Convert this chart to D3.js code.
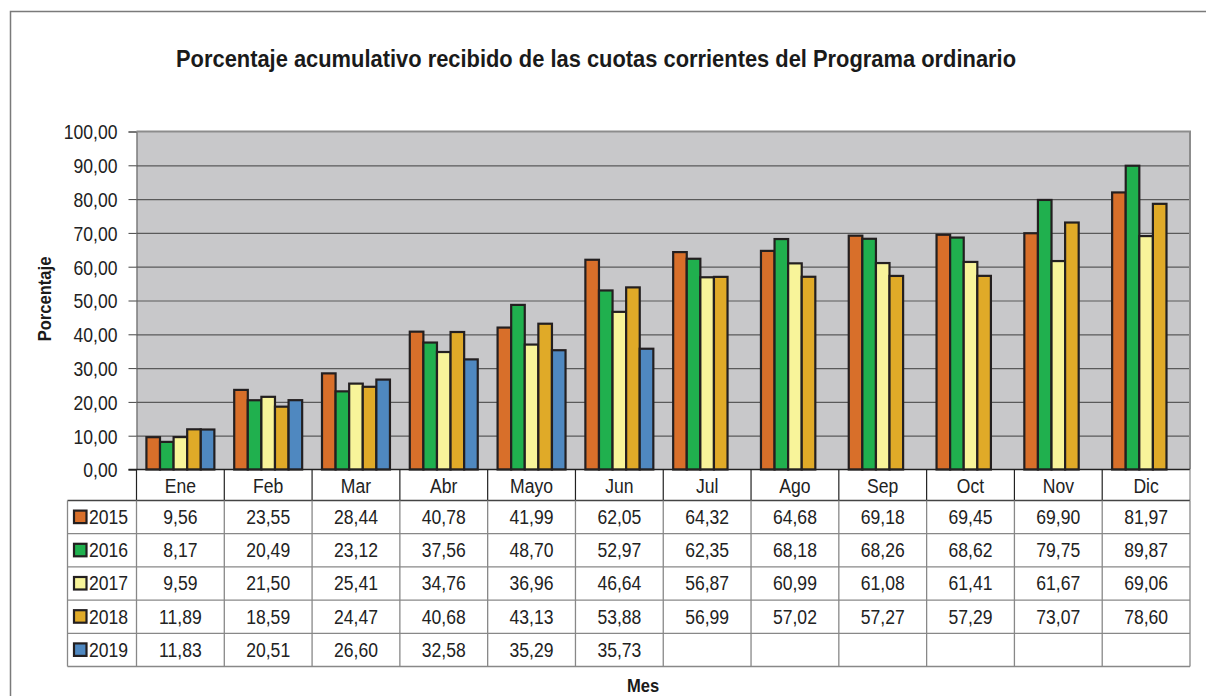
<!DOCTYPE html>
<meta charset="utf-8">

<head>
  <title>Porcentaje acumulativo</title>
</head>

<style>
  body { margin: 0; background: #fff; }
  svg { font-family: "Liberation Sans", Arial, sans-serif; }
</style>

<body>
  <svg width="1206" height="696">
    <g></g>
  </svg>

  <script src="https://cdn.jsdelivr.net/npm/d3@7"></script>
  <script>
    var months = ['Ene', 'Feb', 'Mar', 'Abr', 'Mayo', 'Jun', 'Jul', 'Ago', 'Sep', 'Oct', 'Nov', 'Dic'];
    var years = ['2015', '2016', '2017', '2018', '2019'];

    var v2015 = [9.56, 23.55, 28.44, 40.78, 41.99, 62.05, 64.32, 64.68, 69.18, 69.45, 69.90, 81.97];
    var v2016 = [8.17, 20.49, 23.12, 37.56, 48.70, 52.97, 62.35, 68.18, 68.26, 68.62, 79.75, 89.87];
    var v2017 = [9.59, 21.50, 25.41, 34.76, 36.96, 46.64, 56.87, 60.99, 61.08, 61.41, 61.67, 69.06];
    var v2018 = [11.89, 18.59, 24.47, 40.68, 43.13, 53.88, 56.99, 57.02, 57.27, 57.29, 73.07, 78.60];
    var v2019 = [11.83, 20.51, 26.60, 32.58, 35.29, 35.73, null, null, null, null, null, null];

    var yTicks = [0, 10, 20, 30, 40, 50, 60, 70, 80, 90, 100];

    var colors = ['#d86f2a', '#20b04e', '#f8f49a', '#e0aa28', '#4f88c0'];

    var series = [v2015, v2016, v2017, v2018, v2019].map(function (vals, i) {
      return { year: years[i], values: vals };
    });

    var locale = d3.formatLocale({ decimal: ',', thousands: '.', grouping: [3], currency: ['', '€'] });
    var fmt = locale.format('.2f');

    // squeeze text a little horizontally, like the original condensed face
    function condense(sel, k) {
      sel.each(function () {
        var w = this.getComputedTextLength();
        d3.select(this).attr('textLength', w * k).attr('lengthAdjust', 'spacingAndGlyphs');
      });
    }

    var svg = d3.select('svg');

    // outer frame
    svg.append('path')
      .attr('d', 'M10.5,700 V11.5 H1210')
      .attr('fill', 'none')
      .attr('stroke', '#7a7a7a')
      .attr('stroke-width', 1.5);

    var plotL = 136.5, plotR = 1190, plotT = 131.5, plotB = 469.5;

    var x0 = d3.scaleBand().domain(months).range([plotL, plotR]).padding(0);
    var x1 = d3.scaleBand().domain(years).range([0, x0.bandwidth()])
      .paddingInner(0).paddingOuter(0.73);
    var y = d3.scaleLinear().domain([0, 100]).range([plotB, plotT]);

    // title
    svg.append('text')
      .attr('x', 596)
      .attr('y', 67)
      .attr('text-anchor', 'middle')
      .attr('font-weight', 'bold')
      .attr('font-size', 24)
      .attr('fill', '#1a1a1a')
      .attr('textLength', 840)
      .attr('lengthAdjust', 'spacingAndGlyphs')
      .text('Porcentaje acumulativo recibido de las cuotas corrientes del Programa ordinario');

    // plot background
    svg.append('rect')
      .attr('x', plotL)
      .attr('y', plotT)
      .attr('width', plotR - plotL)
      .attr('height', plotB - plotT)
      .attr('fill', '#c8c8ca');

    // grid + left axis
    var yAxis = svg.append('g')
      .attr('class', 'left-axis')
      .attr('transform', 'translate(' + plotL + ',0)')
      .call(d3.axisLeft(y).tickValues(yTicks).tickSize(8).tickFormat(fmt));
    yAxis.select('.domain').attr('stroke', '#555');
    yAxis.selectAll('.tick line').attr('stroke', '#444');
    yAxis.selectAll('.tick text')
      .attr('font-size', 19.5)
      .attr('font-family', '"Liberation Sans", Arial, sans-serif')
      .attr('fill', '#222')
      .attr('x', -19)
      .attr('dy', '0.38em')
      .call(condense, 0.9);
    yAxis.selectAll('.tick')
      .filter(function (d) { return d > 0 && d < 100; })
      .append('line')
      .attr('x2', plotR - plotL)
      .attr('stroke', '#5a5a5a')
      .attr('stroke-width', 1.2);

    // plot border top and right
    svg.append('path')
      .attr('d', 'M' + plotL + ',' + plotT + ' H' + plotR + ' V' + plotB)
      .attr('fill', 'none')
      .attr('stroke', '#8c8c8c')
      .attr('stroke-width', 2);

    // bars
    var groups = svg.append('g')
      .selectAll('g')
      .data(series)
      .enter()
      .append('g')
      .attr('fill', function (d, i) { return colors[i]; });

    groups.selectAll('rect')
      .data(function (s) {
        return s.values.map(function (v, i) { return { year: s.year, month: months[i], value: v }; })
          .filter(function (d) { return d.value != null; });
      })
      .enter()
      .append('rect')
      .attr('x', function (d) { return x0(d.month) + x1(d.year); })
      .attr('y', function (d) { return y(d.value); })
      .attr('width', x1.bandwidth())
      .attr('height', function (d) { return plotB - y(d.value); })
      .attr('stroke', '#231f20')
      .attr('stroke-width', 2.2);

    // bottom axis line
    svg.append('line')
      .attr('x1', plotL - 8)
      .attr('x2', plotR)
      .attr('y1', plotB)
      .attr('y2', plotB)
      .attr('stroke', '#222')
      .attr('stroke-width', 1.5);

    // data table
    var headerH = 31, rowH = 33.2;
    var tableLeft = 67.5;
    var rowTop = function (i) { return plotB + headerH + i * rowH; };
    var table = svg.append('g');

    // header verticals (dark)
    table.selectAll('.hv')
      .data(months.concat(['end']))
      .enter()
      .append('line')
      .attr('x1', function (d) { return d === 'end' ? plotR : x0(d); })
      .attr('x2', function (d) { return d === 'end' ? plotR : x0(d); })
      .attr('y1', plotB)
      .attr('y2', rowTop(0))
      .attr('stroke', function (d) { return d === 'end' ? '#8c8c8c' : '#222'; })
      .attr('stroke-width', 1.2);

    // header labels
    table.selectAll('.hl')
      .data(months)
      .enter()
      .append('text')
      .attr('x', function (d) { return x0(d) + x0.bandwidth() / 2; })
      .attr('y', plotB + 23)
      .attr('text-anchor', 'middle')
      .attr('font-size', 19.5)
      .attr('fill', '#222')
      .text(function (d) { return d; })
      .call(condense, 0.9);

    // horizontal rules
    table.selectAll('.hr')
      .data(d3.range(years.length + 1))
      .enter()
      .append('line')
      .attr('x1', tableLeft)
      .attr('x2', plotR)
      .attr('y1', function (i) { return rowTop(i); })
      .attr('y2', function (i) { return rowTop(i); })
      .attr('stroke', function (i) { return i === 0 ? '#444' : '#888'; })
      .attr('stroke-width', 1.3);

    // body verticals
    var vx = [tableLeft].concat(months.map(function (m) { return x0(m); })).concat([plotR]);
    table.selectAll('.bv')
      .data(vx)
      .enter()
      .append('line')
      .attr('x1', function (d) { return d; })
      .attr('x2', function (d) { return d; })
      .attr('y1', rowTop(0))
      .attr('y2', rowTop(years.length))
      .attr('stroke', '#888')
      .attr('stroke-width', 1.3);

    var rows = table.selectAll('.row')
      .data(series)
      .enter()
      .append('g')
      .attr('transform', function (d, i) { return 'translate(0,' + rowTop(i) + ')'; });

    rows.append('rect')
      .attr('x', 74)
      .attr('y', rowH / 2 - 6.5)
      .attr('width', 12.5)
      .attr('height', 12.5)
      .attr('fill', function (d, i) { return colors[i]; })
      .attr('stroke', '#231f20')
      .attr('stroke-width', 2.2);

    rows.append('text')
      .attr('x', 89)
      .attr('y', rowH / 2 + 7)
      .attr('font-size', 19.5)
      .attr('fill', '#222')
      .text(function (d) { return d.year; })
      .call(condense, 0.9);

    rows.selectAll('.val')
      .data(function (s) {
        return s.values.map(function (v, i) { return { month: months[i], value: v }; })
          .filter(function (d) { return d.value != null; });
      })
      .enter()
      .append('text')
      .attr('x', function (d) { return x0(d.month) + x0.bandwidth() / 2; })
      .attr('y', rowH / 2 + 7)
      .attr('text-anchor', 'middle')
      .attr('font-size', 19.5)
      .attr('fill', '#222')
      .text(function (d) { return fmt(d.value); })
      .call(condense, 0.9);

    // axis titles
    svg.append('text')
      .attr('transform', 'translate(51,299) rotate(-90)')
      .attr('text-anchor', 'middle')
      .attr('font-weight', 'bold')
      .attr('font-size', 18)
      .attr('fill', '#1a1a1a')
      .text('Porcentaje')
      .call(condense, 0.92);

    svg.append('text')
      .attr('x', 643)
      .attr('y', 692)
      .attr('text-anchor', 'middle')
      .attr('font-weight', 'bold')
      .attr('font-size', 18)
      .attr('fill', '#1a1a1a')
      .text('Mes')
      .call(condense, 0.92);
  </script>
</body>

</html>
